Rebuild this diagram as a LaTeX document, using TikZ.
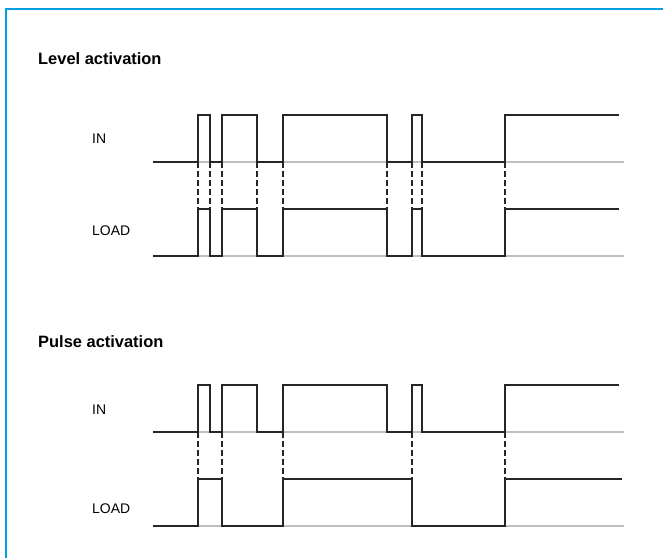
\documentclass[tikz,border=0pt]{standalone}
\usepackage{fontspec}
\setmainfont{Liberation Sans}
\usepackage{xcolor}
\usepackage{tikz}

\definecolor{framebl}{RGB}{0,160,227}

\tikzset{
    sig/.style={draw=black!85, line width=1.2bp},
    base/.style={draw=black!25, line width=1.5bp},
    guide/.style={draw=black!85, line width=1.3bp, dash pattern=on 6bp off 3bp},
    title/.style={anchor=west, inner sep=0pt, font=\fontsize{16.5}{20}\selectfont\bfseries},
    lbl/.style={anchor=west, inner sep=0pt, font=\fontsize{14}{17}\selectfont},
}

\begin{document}
\begin{tikzpicture}[x=1bp, y=-1bp]
    \useasboundingbox (0,0) rectangle (663,558);

    % 外框 (只有上边和左边)
    \draw[draw=framebl, line width=2bp] (5.5,558) -- (5.5,9.5) -- (663,9.5);

    % Level activation
    \node[title] (lvltitle) at (38,59) {Level activation};
    \node[lbl] (lvlin) at (92,139) {IN};
    \node[lbl] (lvlload) at (92,231) {LOAD};

    \draw[base] (153,162) -- (624,162);
    \draw[base] (153,256) -- (624,256);

    \foreach \x in {198,210,222,257,283,387,412,422,505}
        \draw[guide] (\x,162) -- (\x,209);

    \draw[sig] (153,162) -- (198,162) |- (210,115) |- (222,162) |- (257,115) |- (283,162)
        |- (387,115) |- (412,162) |- (422,115) |- (505,162) |- (619,115);
    \draw[sig] (153,256) -- (198,256) |- (210,209) |- (222,256) |- (257,209) |- (283,256)
        |- (387,209) |- (412,256) |- (422,209) |- (505,256) |- (619,209);

    % Pulse activation
    \node[title] (pultitle) at (38,342) {Pulse activation};
    \node[lbl] (pulin) at (92,410) {IN};
    \node[lbl] (pulload) at (92,509) {LOAD};

    \draw[base] (153,432) -- (624,432);
    \draw[base] (153,526) -- (624,526);

    \foreach \x in {198,222,283,412,505}
        \draw[guide] (\x,432) -- (\x,479);

    \draw[sig] (153,432) -- (198,432) |- (210,385) |- (222,432) |- (257,385) |- (283,432)
        |- (387,385) |- (412,432) |- (422,385) |- (505,432) |- (619,385);
    \draw[sig] (153,526) -- (198,526) |- (222,479) |- (283,526) |- (412,479) |- (505,526)
        |- (622,479);

\end{tikzpicture}
\end{document}
